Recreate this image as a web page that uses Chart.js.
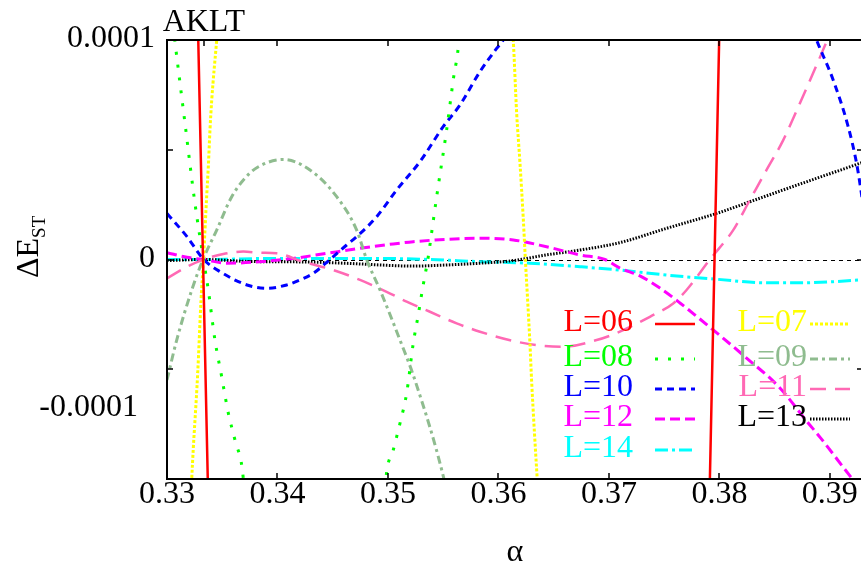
<!DOCTYPE html>
<html>
<head>
<meta charset="utf-8">
<script src="https://cdn.jsdelivr.net/npm/chart.js@4/dist/chart.umd.min.js"></script>
<style>
  html, body { margin: 0; padding: 0; background: #fff; overflow: hidden; width: 861px; height: 566px; }
  #wrap { position: relative; width: 866px; height: 566px; }
  canvas { display: block; }
</style>
</head>
<body>
<div id="wrap"><canvas id="c" width="866" height="566"></canvas></div>
<script>
// ---- axis ticks ----
const xTicks = [0.33, 0.34, 0.35, 0.36, 0.37, 0.38, 0.39];
const xTickLabels = ['0.33', '0.34', '0.35', '0.36', '0.37', '0.38', '0.39'];
const x2Ticks = [1 / 3];
const x2TickLabels = ['AKLT'];
const yTicks = [-0.0001, -0.00005, 0, 0.00005, 0.0001];
const yLabelValues = [0.0001, 0, -0.0001];
const yTickLabels = ['0.0001', '0', '-0.0001'];

// ---- singlet-triplet gap vs alpha, one pair of arrays per chain length ----
const alpha06 = [0.3300, 0.3324, 0.33326, 0.33412, 0.3560, 0.37872, 0.37956, 0.3804, 0.3930];
const dE06 = [9.0e-4, 2.0e-4, 0, -2.0e-4, -3.0e-3, -2.0e-4, 0, 2.0e-4, 3.0e-3];

const alpha07 = [0.3300, 0.33224, 0.33278, 0.33308, 0.33330, 0.33359, 0.33374, 0.33389, 0.33405, 0.3345, 0.3350, 0.3480,
                 0.3610, 0.36134, 0.36165, 0.36195, 0.36224, 0.36244, 0.36285, 0.36300, 0.36351, 0.3645, 0.3930];
const dE07 = [-4.0e-4, -1.0e-4, -5.17e-5, -1.85e-5, 0, 2.86e-5, 4.23e-5, 5.9e-5, 7.27e-5, 1.0e-4, 1.3e-4, 3.0e-3,
              1.2e-4, 1.0e-4, 6.67e-5, 4.4e-5, 1.94e-5, 0, -3.8e-5, -5.49e-5, -1.0e-4, -1.8e-4, -3.0e-3];

const alpha08 = [0.3300, 0.33072, 0.33163, 0.33253, 0.33330, 0.33374, 0.33434, 0.33495, 0.33555, 0.33615, 0.33690, 0.3433,
                 0.34982, 0.35048, 0.35109, 0.35169, 0.35229, 0.35274, 0.35314, 0.35365, 0.35395, 0.35441, 0.35531,
                 0.35591, 0.35643, 0.3650, 0.3930];
const dE08 = [1.3e-4, 9.92e-5, 6.2e-5, 2.56e-5, 0, -1.39e-5, -3.67e-5, -5.34e-5, -7.0e-5, -8.22e-5, -9.95e-5, -6.0e-4,
              -9.95e-5, -8.68e-5, -7.46e-5, -6.1e-5, -3.82e-5, -2.53e-5, -1.31e-5, 1.3e-6, 1.21e-5, 2.86e-5, 5.9e-5,
              8.18e-5, 1.0e-4, 8.0e-4, 4.0e-3];

const alpha09 = [0.3300, 0.33088, 0.33224, 0.33326, 0.3345, 0.33586, 0.33751, 0.3390, 0.34052, 0.34294, 0.34536,
                 0.34717, 0.34807, 0.34928, 0.35109, 0.35244, 0.35507, 0.3600, 0.3930];
const dE09 = [-5.49e-5, -3.67e-5, -1.39e-5, 0, 1.34e-5, 2.86e-5, 3.94e-5, 4.4e-5, 4.56e-5, 4.08e-5, 2.86e-5,
              1.34e-5, 0, -1.39e-5, -3.67e-5, -5.49e-5, -1.0e-4, -2.2e-4, -2.0e-3];

const alpha10 = [0.3300, 0.33181, 0.33332, 0.33482, 0.33724, 0.33905, 0.34083, 0.34204, 0.34324, 0.34475, 0.34626,
                 0.34717, 0.34898, 0.35079, 0.35290, 0.35500, 0.35652, 0.35833, 0.35984, 0.36043, 0.3746,
                 0.3888, 0.3903, 0.39166, 0.39242, 0.39281, 0.3930];
const dE10 = [2.1e-5, 1.04e-5, 0, -5.6e-6, -1.16e-5, -1.31e-5, -1.16e-5, -9.3e-6, -6.3e-6, 0, 6.6e-6,
              1.04e-5, 1.95e-5, 3.17e-5, 4.46e-5, 6.05e-5, 7.04e-5, 8.56e-5, 9.62e-5, 1.0e-4, 3.0e-4,
              1.0e-4, 8.18e-5, 6.05e-5, 4.38e-5, 3.17e-5, 2.5e-5];

const alpha11 = [0.3300, 0.33181, 0.33332, 0.33510, 0.33690, 0.33842, 0.33993, 0.34233, 0.34505, 0.34747, 0.34988,
                 0.35169, 0.35380, 0.35622, 0.35833, 0.36134, 0.36346, 0.36587, 0.36889, 0.37070, 0.37371, 0.37582,
                 0.37703, 0.37914, 0.38125, 0.38276, 0.38427, 0.38578, 0.38729, 0.38970, 0.3930];
const dE11 = [-8.6e-6, -3.3e-6, 0, 2.5e-6, 3.6e-6, 3.1e-6, 2.8e-6, -1.0e-6, -4.8e-6, -9.3e-6, -1.47e-5,
              -1.92e-5, -2.38e-5, -2.91e-5, -3.29e-5, -3.71e-5, -3.9e-5, -3.97e-5, -3.67e-5, -3.35e-5, -2.61e-5, -2.0e-5,
              -1.39e-5, 0, 1.34e-5, 2.71e-5, 4.08e-5, 5.44e-5, 7.12e-5, 9.92e-5, 1.4e-4];

const alpha12 = [0.3300, 0.33181, 0.33332, 0.33540, 0.33842, 0.34143, 0.34445, 0.34747, 0.35048, 0.35229, 0.35531,
                 0.35833, 0.36134, 0.36436, 0.36738, 0.36964, 0.37100, 0.37281, 0.37462, 0.37643, 0.37944, 0.38246,
                 0.38548, 0.38789, 0.38910, 0.39196, 0.3930];
const dE12 = [3.1e-6, 1.0e-6, 0, -1.7e-6, -1.0e-6, 5e-7, 2.8e-6, 5.1e-6, 7.1e-6, 8.1e-6, 9.2e-6,
              9.7e-6, 8.9e-6, 5.8e-6, 2.1e-6, 0, -3.9e-6, -7.5e-6, -1.3e-5, -1.98e-5, -3.21e-5, -4.49e-5,
              -5.85e-5, -7.36e-5, -8.09e-5, -9.95e-5, -1.06e-4];

const alpha13 = [0.3300, 0.33326, 0.33751, 0.34204, 0.34656, 0.34928, 0.35229, 0.35531, 0.35833, 0.36134, 0.36436,
                 0.36738, 0.37100, 0.37522, 0.37975, 0.38276, 0.38578, 0.38880, 0.39272, 0.3930];
const dE13 = [-5e-7, 0, -9e-7, -1.1e-6, -1.8e-6, -2.5e-6, -3.0e-6, -2.5e-6, -1.7e-6, -5e-7, 2.1e-6,
              4.3e-6, 7.7e-6, 1.42e-5, 2.1e-5, 2.63e-5, 3.17e-5, 3.7e-5, 4.38e-5, 4.43e-5];

const alpha14 = [0.3300, 0.33326, 0.3400, 0.34928, 0.35380, 0.35833, 0.36285, 0.36738, 0.37100, 0.37522, 0.37975,
                 0.38427, 0.38729, 0.39030, 0.39272, 0.3930];
const dE14 = [0, 0, 5e-7, 5e-7, 0, -1.0e-6, -1.7e-6, -3.3e-6, -4.8e-6, -7.1e-6, -9.0e-6,
              -1.06e-5, -1.06e-5, -1.01e-5, -9.3e-6, -9.2e-6];

const seriesNames = ['L=06', 'L=07', 'L=08', 'L=09', 'L=10', 'L=11', 'L=12', 'L=13', 'L=14'];
const seriesAlpha = [alpha06, alpha07, alpha08, alpha09, alpha10, alpha11, alpha12, alpha13, alpha14];
const seriesGap = [dE06, dE07, dE08, dE09, dE10, dE11, dE12, dE13, dE14];

// ---- line styles ----
const styles = [
  { color: '#ff0000', dash: [],            width: 2.5, smooth: false },
  { color: '#ffff00', dash: [3, 2],        width: 3,   smooth: true },
  { color: '#00ff00', dash: [3, 10],       width: 3,   smooth: true },
  { color: '#8fbc8f', dash: [8, 4, 3, 4],  width: 3,   smooth: true },
  { color: '#0000ff', dash: [7, 5],        width: 3,   smooth: true },
  { color: '#ff69b4', dash: [16, 9],       width: 2.5, smooth: true },
  { color: '#ff00ff', dash: [10, 5],       width: 3,   smooth: true },
  { color: '#000000', dash: [1.5, 1.5],    width: 3,   smooth: true },
  { color: '#00ffff', dash: [13, 4, 3, 4], width: 3,   smooth: true }
];

const SERIF = '"Liberation Serif", "DejaVu Serif", serif';
const FONT_SIZE = 32;

const datasets = seriesNames.map((name, i) => ({
  label: name,
  data: seriesAlpha[i].map((a, k) => ({ x: a, y: seriesGap[i][k] })),
  borderColor: styles[i].color,
  borderDash: styles[i].dash,
  borderWidth: styles[i].width,
  cubicInterpolationMode: styles[i].smooth ? 'monotone' : 'default',
  pointRadius: 0,
  tension: 0,
  fill: false,
  clip: 0
}));

// key layout: two columns of entries inside the plot
const keyColumns = [
  { names: ['L=06', 'L=08', 'L=10', 'L=12', 'L=14'], textRight: 633, lineFrom: 655, lineTo: 695 },
  { names: ['L=07', 'L=09', 'L=11', 'L=13'],         textRight: 807, lineFrom: 810, lineTo: 850 }
];
const keyRowsY = [323, 358, 388, 418, 449];

const framePlugin = {
  id: 'frame',
  beforeDatasetsDraw(chart) {
    const { ctx, chartArea: a, scales: { y } } = chart;
    const y0 = Math.round(y.getPixelForValue(0)) + 0.5;
    ctx.save();
    ctx.strokeStyle = '#000';
    ctx.lineWidth = 1;
    ctx.setLineDash([4, 4]);
    ctx.beginPath();
    ctx.moveTo(a.left, y0);
    ctx.lineTo(a.right, y0);
    ctx.stroke();
    ctx.restore();
  },
  afterDatasetsDraw(chart) {
    const { ctx, chartArea: a, scales: { x, y } } = chart;
    ctx.save();
    ctx.strokeStyle = '#000';
    ctx.lineWidth = 2;
    ctx.setLineDash([]);
    ctx.strokeRect(a.left, a.top, a.right - a.left, a.bottom - a.top);

    const tick = 6;
    ctx.lineWidth = 1.5;
    ctx.beginPath();
    xTicks.forEach(t => {
      const px = Math.round(x.getPixelForValue(t));
      ctx.moveTo(px, a.bottom); ctx.lineTo(px, a.bottom - tick);
      ctx.moveTo(px, a.top); ctx.lineTo(px, a.top + tick);
    });
    x2Ticks.forEach(t => {
      const px = Math.round(x.getPixelForValue(t));
      ctx.moveTo(px, a.top); ctx.lineTo(px, a.top + tick);
    });
    yTicks.forEach(t => {
      const py = Math.round(y.getPixelForValue(t));
      ctx.moveTo(a.left, py); ctx.lineTo(a.left + tick, py);
      ctx.moveTo(a.right, py); ctx.lineTo(a.right - tick, py);
    });
    ctx.stroke();

    // tick labels
    ctx.fillStyle = '#000';
    ctx.font = FONT_SIZE + 'px ' + SERIF;
    ctx.textAlign = 'center';
    ctx.textBaseline = 'middle';
    xTicks.forEach((t, i) => ctx.fillText(xTickLabels[i], x.getPixelForValue(t), a.bottom + 16));
    x2Ticks.forEach((t, i) => ctx.fillText(x2TickLabels[i], x.getPixelForValue(t), a.top - 17));

    ctx.textAlign = 'right';
    yLabelValues.forEach((v, i) => {
      let px = a.left - 12, py = y.getPixelForValue(v) - 1;
      if (v < 0) { px -= 17; py -= 70; } // lowest label sits raised inside the frame height
      ctx.fillText(yTickLabels[i], px, py);
    });

    // axis titles
    ctx.textAlign = 'center';
    ctx.textBaseline = 'alphabetic';
    ctx.fillText('α', 515, 561);

    ctx.save();
    ctx.translate(38, 278);
    ctx.rotate(-Math.PI / 2);
    ctx.textAlign = 'left';
    ctx.fillText('ΔE', 0, 0);
    const w = ctx.measureText('ΔE').width;
    ctx.font = '19px ' + SERIF;
    ctx.fillText('ST', w, 7);
    ctx.restore();

    // key
    ctx.font = FONT_SIZE + 'px ' + SERIF;
    ctx.textBaseline = 'middle';
    keyColumns.forEach(col => {
      col.names.forEach((name, r) => {
        const i = seriesNames.indexOf(name);
        const st = styles[i];
        const ry = keyRowsY[r];
        ctx.textAlign = 'right';
        ctx.fillStyle = st.color;
        ctx.fillText(name, col.textRight, ry);
        ctx.strokeStyle = st.color;
        ctx.lineWidth = st.width;
        ctx.setLineDash(st.dash);
        ctx.beginPath();
        ctx.moveTo(col.lineFrom, ry + 1);
        ctx.lineTo(col.lineTo, ry + 1);
        ctx.stroke();
        ctx.setLineDash([]);
      });
    });
    ctx.restore();
  }
};

function drawChart() {
  new Chart(document.getElementById('c'), {
    type: 'line',
    data: { datasets },
    options: {
      responsive: false,
      animation: false,
      devicePixelRatio: 1,
      layout: { padding: { left: 167, right: 3, top: 40, bottom: 87 } },
      plugins: { legend: { display: false }, tooltip: { enabled: false } },
      scales: {
        x: { type: 'linear', min: 0.33, max: 0.393, display: false },
        y: { type: 'linear', min: -0.0001, max: 0.0001, display: false }
      }
    },
    plugins: [framePlugin]
  });
}

// make sure the serif face is ready before the canvas text is painted
if (document.fonts && document.fonts.load) {
  Promise.all([
    document.fonts.load(FONT_SIZE + 'px "Liberation Serif"', '0.1AKLT=α'),
    document.fonts.load('19px "Liberation Serif"', 'ST')
  ]).then(drawChart, drawChart);
} else {
  drawChart();
}
</script>
</body>
</html>
